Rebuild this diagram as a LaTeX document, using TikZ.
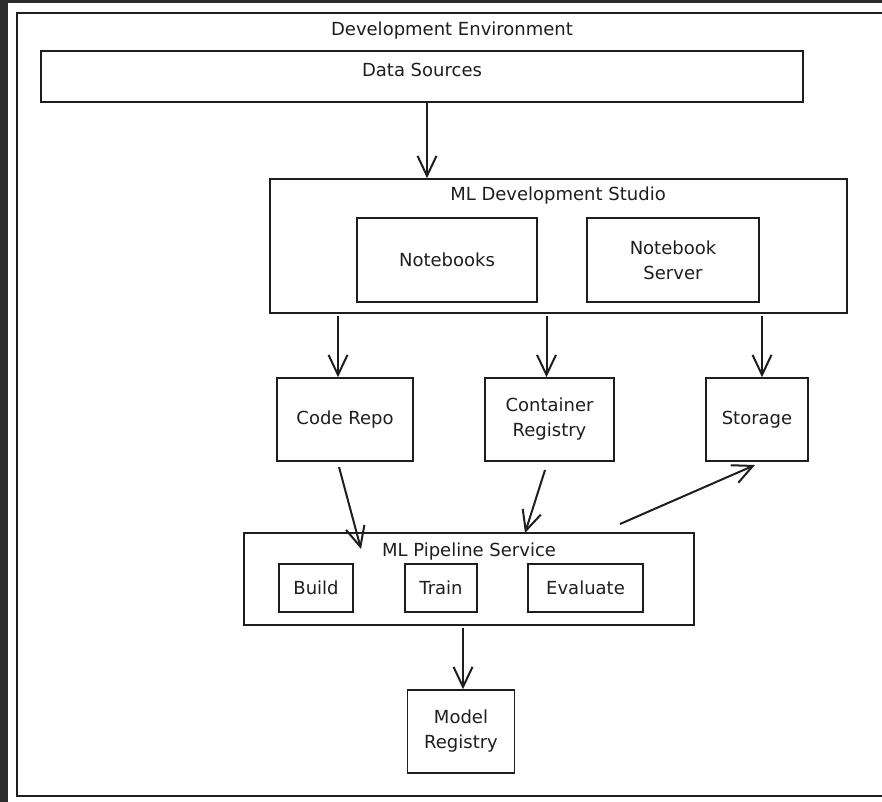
\documentclass[tikz,border=0pt]{standalone}
\usepackage{fontspec}
\setmainfont{DejaVu Sans}
\usetikzlibrary{arrows.meta}

\definecolor{ink}{HTML}{1E1E1E}
\definecolor{backdrop}{HTML}{2B2B2B}

\begin{document}
\begin{tikzpicture}[x=1pt,y=-1pt,font=\fontsize{18}{25}\selectfont,text=ink]
\useasboundingbox (0,0) rectangle (882,801);
\fill[backdrop] (-10,-10) rectangle (900,820);
\fill[white] (8,3) rectangle (900,820);

% outer frame, open on the right (cut by the page)
\draw[ink,line width=1.6pt] (890,13) -- (17,13) -- (17,796) -- (890,796);

\begin{scope}[every node/.style={inner sep=0pt}]
    \node (envtitle) at (452,31) {Development Environment};
    \node (srctitle) at (422,70) {Data Sources};
    \node (studiotitle) at (558,196) {ML Development Studio};
    \node (pipetitle) at (469,552) {ML Pipeline Service};
\end{scope}

\begin{scope}[every node/.style={rectangle,draw=ink,line width=1.6pt,inner sep=0pt,align=center}]
    \node[minimum width=762,minimum height=51] (datasrc) at (422,76.5) {};
    \node[minimum width=577,minimum height=134] (studio) at (558.5,246) {};
    \node[minimum width=180,minimum height=84] (notebooks) at (447,260) {Notebooks};
    \node[minimum width=172,minimum height=84] (nbserver) at (673,260) {Notebook\\Server};
    \node[minimum width=136,minimum height=83] (coderepo) at (345,419.5) {Code Repo};
    \node[minimum width=129,minimum height=83] (contreg) at (549.5,419.5) {Container\\Registry};
    \node[minimum width=102,minimum height=83] (storage) at (757,419.5) {Storage};
    \node[minimum width=450,minimum height=92] (pipeline) at (469,579) {};
    \node[minimum width=74,minimum height=48] (build) at (316,588) {Build};
    \node[minimum width=72,minimum height=48] (train) at (441,588) {Train};
    \node[minimum width=115,minimum height=48] (evaluate) at (585.5,588) {Evaluate};
    \node[minimum width=107,minimum height=83] (modelreg) at (461,731.5) {Model\\Registry};
\end{scope}

\coordinate (repoout) at (339,467);
\coordinate (pipein) at (361,549);
\coordinate (contout) at (545,470);
\coordinate (pipetop) at (525,533);
\coordinate (pipeout) at (620,524);
\coordinate (storein) at (755,465);

\begin{scope}[>={Straight Barb[length=20pt,width=19pt]},
              every edge/.style={draw=ink,line width=2pt}]
    \path [->] ([xshift=5pt]datasrc.south) edge ([xshift=5pt]datasrc.south |- studio.north);
    \path [->] ([xshift=-7pt,yshift=-2pt]coderepo.north |- studio.south) edge ([xshift=-7pt]coderepo.north);
    \path [->] ([xshift=-3pt,yshift=-2pt]contreg.north |- studio.south) edge ([xshift=-3pt]contreg.north);
    \path [->] ([xshift=5pt,yshift=-2pt]storage.north |- studio.south) edge ([xshift=5pt]storage.north);
    \path [->] (repoout) edge (pipein);
    \path [->] (contout) edge (pipetop);
    \path [->] (pipeout) edge (storein);
    \path [->] ([xshift=2pt,yshift=-2pt]modelreg.north |- pipeline.south) edge ([xshift=2pt]modelreg.north);
\end{scope}
\end{tikzpicture}
\end{document}
